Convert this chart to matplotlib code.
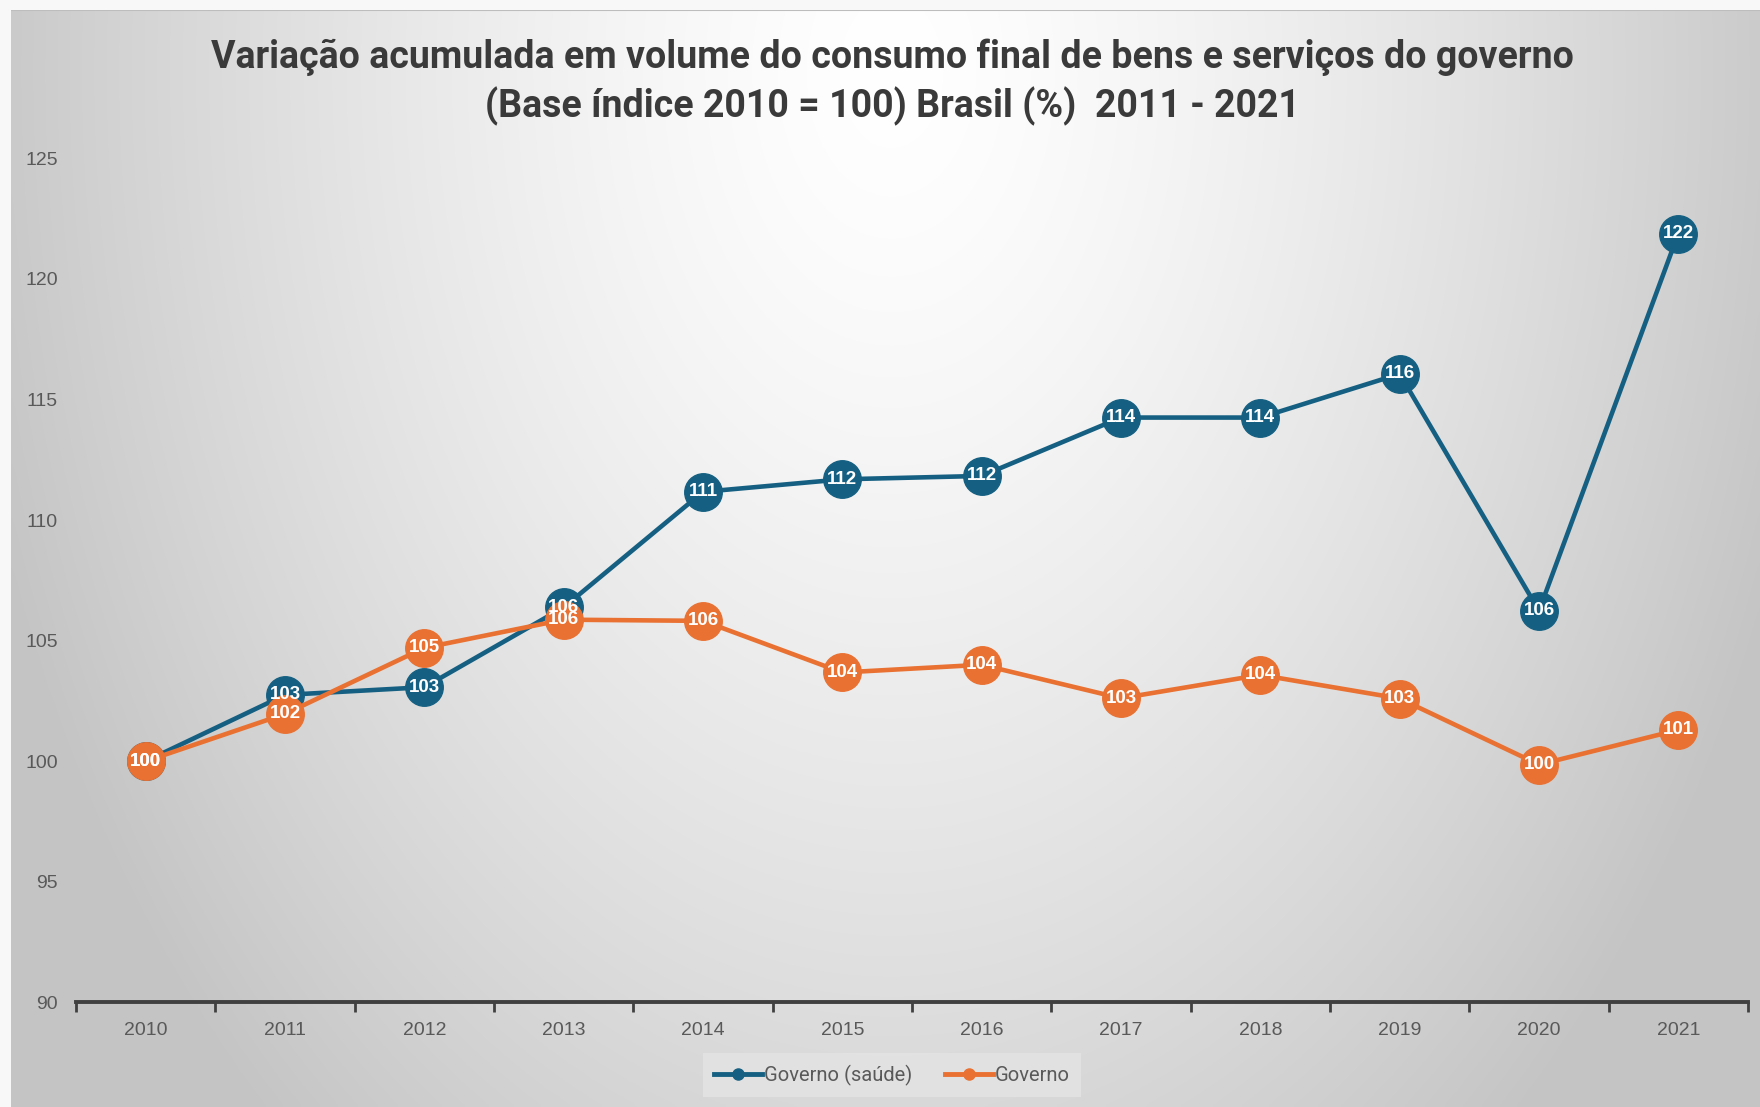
import numpy as np
import matplotlib
matplotlib.use("Agg")
import matplotlib.pyplot as plt
from matplotlib.lines import Line2D

anos = [2010, 2011, 2012, 2013, 2014, 2015, 2016, 2017, 2018, 2019, 2020, 2021]
gov_saude = [100.0, 102.75, 103.07, 106.38, 111.17, 111.69, 111.83, 114.25, 114.25, 116.06, 106.24, 121.88]
governo = [100.0, 101.96, 104.7, 105.87, 105.82, 103.68, 104.0, 102.61, 103.58, 102.6, 99.86, 101.3]
series_nomes = ["Governo (saúde)", "Governo"]
yticks = [90, 95, 100, 105, 110, 115, 120, 125]

titulo = ("Variação acumulada em volume do consumo final de bens e serviços do governo\n"
          "(Base índice 2010 = 100) Brasil (%)  2011 - 2021")

azul = "#156082"
laranja = "#E97132"
cinza_txt = "#595959"
narrow = ["Liberation Sans Narrow", "Roboto", "DejaVu Sans"]
sans = ["Liberation Sans", "DejaVu Sans"]

W, H = 1760, 1107
fig = plt.figure(figsize=(W / 100, H / 100), dpi=100, facecolor="#f8f8f8")

# fundo com degradê radial (estilo Excel)
bg = fig.add_axes([11 / W, 0, 1 - 11 / W, 1 - 10 / H], zorder=-10)
gx, gy = np.meshgrid(np.linspace(0, 1749, 400), np.linspace(0, 1097, 260))
d = np.sqrt(((gx - 880) / 950) ** 2 + ((gy - 60) / 1400) ** 2)
d = np.clip(d, 0, 1) ** 1.4
v = 1.0 - (1.0 - 0.77) * d
bg.imshow(np.dstack([v, v, v]), aspect="auto", extent=[0, 1, 0, 1], interpolation="bicubic")
bg.plot([0, 1], [1, 1], color="#bdbdbd", lw=1.5, transform=bg.transAxes)
bg.set_axis_off()

ax = fig.add_axes([76 / W, 1 - 1002.4 / H, 1672 / W, (1002.4 - 158.3) / H])
ax.patch.set_alpha(0)

for vals, cor, nome, z in [(gov_saude, azul, series_nomes[0], 3), (governo, laranja, series_nomes[1], 4)]:
    ax.plot(anos, vals, color=cor, lw=3.3, marker="o", ms=27, mec=cor, mfc=cor,
            zorder=z, clip_on=False, label=nome)

for vals in [gov_saude, governo]:
    for x, y in zip(anos, vals):
        ax.text(x, y, "{:.0f}".format(y), ha="center", va="center", color="white",
                fontsize=13.5, fontweight="bold", family=sans, zorder=10)

ax.set_xlim(anos[0] - 0.5, anos[-1] + 0.5)
ax.set_ylim(yticks[0], yticks[-1])
ax.set_yticks(yticks)
ax.set_yticklabels([str(t) for t in yticks], family=sans, fontsize=14, color=cinza_txt)
ax.tick_params(axis="y", length=0, pad=13)

# eixo x com marcas entre as categorias
ax.set_xticks(anos)
ax.set_xticklabels([str(a) for a in anos], family=sans, fontsize=14, color=cinza_txt)
ax.tick_params(axis="x", which="major", length=0, pad=14)
ax.set_xticks([a - 0.5 for a in anos] + [anos[-1] + 0.5], minor=True)
ax.tick_params(axis="x", which="minor", length=7, width=2, color="#404040", direction="out")

for s in ["top", "right", "left"]:
    ax.spines[s].set_visible(False)
ax.spines["bottom"].set_color("#404040")
ax.spines["bottom"].set_linewidth(2.8)

fig.text(892 / W, 1 - 82 / H, titulo, ha="center", va="center", fontsize=27,
         fontweight="bold", family=narrow, color="#3a3a3a", linespacing=1.35)

handles = [Line2D([], [], color=azul, lw=3.5, marker="o", ms=8),
           Line2D([], [], color=laranja, lw=3.5, marker="o", ms=8)]
leg = fig.legend(handles, series_nomes, loc="center", bbox_to_anchor=(892 / W, 1 - 1075 / H),
                 ncol=2, frameon=True, fancybox=False, handlelength=2.4, handletextpad=0.1,
                 columnspacing=1.6, borderpad=0.55,
                 prop={"family": narrow, "size": 14.5})
leg.get_frame().set_facecolor("#e4e4e4")
leg.get_frame().set_edgecolor("none")
for t in leg.get_texts():
    t.set_color(cinza_txt)

fig.savefig("out.png", dpi=100, facecolor=fig.get_facecolor())
